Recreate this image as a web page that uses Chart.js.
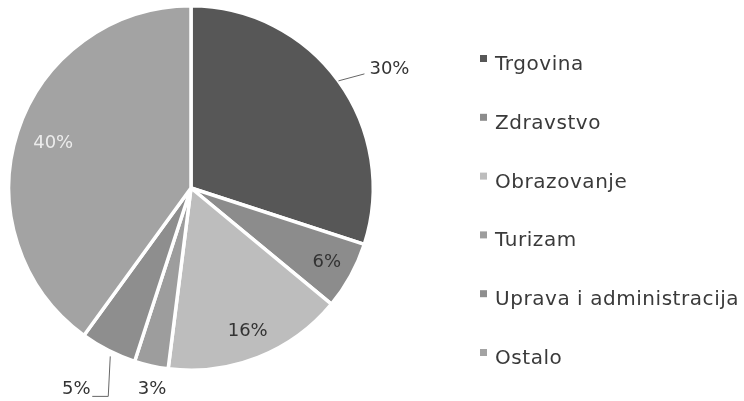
<!DOCTYPE html>
<html><head><meta charset="utf-8">
<script src="https://cdn.jsdelivr.net/npm/chart.js@4/dist/chart.umd.min.js"></script>
<style>html,body{margin:0;padding:0;background:#fff;}#wrap{position:relative;width:744px;height:401px;}</style>
</head><body><div id="wrap"><canvas id="c" width="744" height="401"></canvas></div>
<script>
// ---- data ----
const categories = ['Trgovina', 'Zdravstvo', 'Obrazovanje', 'Turizam', 'Uprava i administracija', 'Ostalo'];
const shares = [30, 6, 16, 3, 5, 40];
const valueLabels = ['30%', '6%', '16%', '3%', '5%', '40%'];

// ---- styling ----
const sliceColors = ['#575757', '#8c8c8c', '#bdbdbd', '#9d9d9d', '#8e8e8e', '#a3a3a3'];
const labelStyle = [
  { r: 1.0,   dx: 51,  dy: -12, color: '#333', line: [[0, 0], [26, -7]] },
  { r: 0.85,  dx: 0,   dy: 0,   color: '#333' },
  { r: 0.845, dx: 0,   dy: 0,   color: '#333' },
  { r: 1.13,  dx: 6,   dy: 0,   color: '#333' },
  { r: 1.0,   dx: -32, dy: 39,  color: '#333', line: [[2, 6], [0, 46], [-16, 46]] },
  { r: 0.795, dx: 0,   dy: 0,   color: '#ececec' }
];
const legendStyle = { boxX: 480, box: 7, textX: 495, firstBaseline: 70, step: 58.8,
  font: '20px "DejaVu Sans"', color: '#3a3a3a', spacing: '0.55px' };

const sliceLabels = {
  id: 'sliceLabels',
  afterDatasetsDraw(chart) {
    const ctx = chart.ctx;
    const meta = chart.getDatasetMeta(0);
    ctx.save();
    ctx.font = '18px "DejaVu Sans"';
    ctx.textAlign = 'center';
    ctx.textBaseline = 'middle';
    meta.data.forEach((arc, i) => {
      const p = arc.getProps(['x', 'y', 'startAngle', 'endAngle', 'outerRadius'], true);
      const mid = (p.startAngle + p.endAngle) / 2;
      const st = labelStyle[i];
      const px = p.x + Math.cos(mid) * p.outerRadius * st.r;
      const py = p.y + Math.sin(mid) * p.outerRadius * st.r;
      if (st.line) {
        ctx.strokeStyle = '#666';
        ctx.lineWidth = 1;
        ctx.beginPath();
        st.line.forEach((pt, k) => {
          if (k === 0) ctx.moveTo(px + pt[0], py + pt[1]);
          else ctx.lineTo(px + pt[0], py + pt[1]);
        });
        ctx.stroke();
      }
      ctx.fillStyle = st.color;
      ctx.fillText(valueLabels[i], px + st.dx, py + st.dy);
    });
    ctx.restore();
  }
};

const sideLegend = {
  id: 'sideLegend',
  afterDraw(chart) {
    const ctx = chart.ctx;
    const ds = chart.data.datasets[0];
    const s = legendStyle;
    ctx.save();
    ctx.font = s.font;
    if ('letterSpacing' in ctx) ctx.letterSpacing = s.spacing;
    ctx.textAlign = 'left';
    ctx.textBaseline = 'alphabetic';
    chart.data.labels.forEach((lab, i) => {
      const base = s.firstBaseline + i * s.step;
      ctx.fillStyle = ds.backgroundColor[i];
      ctx.fillRect(s.boxX, base - 15, s.box, s.box);
      ctx.fillStyle = s.color;
      ctx.fillText(lab, s.textX, base);
    });
    ctx.restore();
  }
};

new Chart(document.getElementById('c'), {
  type: 'pie',
  data: {
    labels: categories,
    datasets: [{
      data: shares,
      backgroundColor: sliceColors,
      borderColor: '#ffffff',
      borderWidth: 3.5
    }]
  },
  options: {
    responsive: false,
    animation: false,
    layout: { padding: { left: 7, right: 369, top: 4, bottom: 29 } },
    plugins: {
      legend: { display: false },
      tooltip: { enabled: false }
    }
  },
  plugins: [sliceLabels, sideLegend]
});
</script>
</body></html>
